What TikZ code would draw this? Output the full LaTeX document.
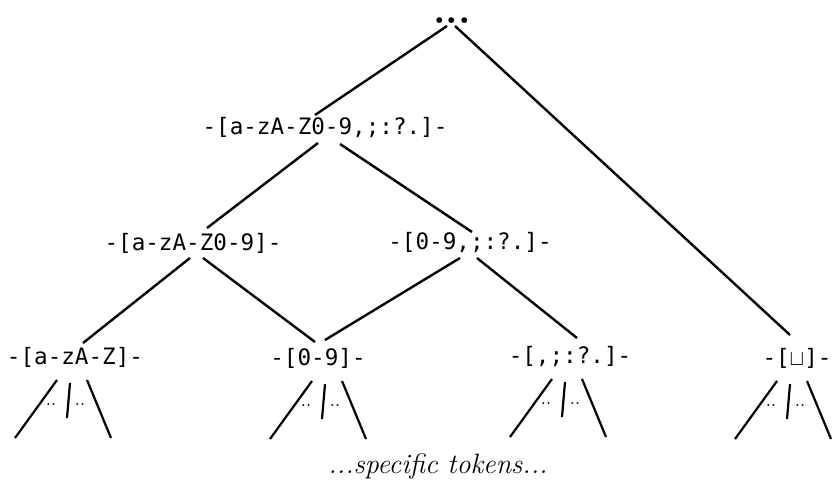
\documentclass[tikz,border=0pt]{standalone}
\usepackage{fontspec}
\usetikzlibrary{calc}
\newfontfamily\tokfont{DejaVu Sans Mono}
\tikzset{
  tnode/.style={inner sep=0pt, font=\tokfont\fontsize{11.3}{13}\selectfont},
  tedge/.style={line width=1.2pt},
  tfan/.style={line width=1.1pt},
  tdots/.style={inner sep=0pt, font=\fontsize{9}{9}\selectfont},
}

\begin{document}
\begin{tikzpicture}[x=0.5pt, y=-0.5pt]
    \useasboundingbox (0,0) rectangle (838,485);
    % top
    \node[inner sep=0pt, font=\fontsize{20}{20}\selectfont\bfseries] (root) at (452,21) {...};
    \node[tnode] (anp) at (325,128) {-[a-zA-Z0-9,;:?.]-};
    \draw[tedge] ($(root)+(-5,5)$) -- ($(anp)+(-10,-13)$);
    % middle
    \node[tnode] (an) at (193,243) {-[a-zA-Z0-9]-};
    \node[tnode] (np) at (470,243) {-[0-9,;:?.]-};
    \draw[tedge] ($(anp)+(-7,15)$) -- ($(an)+(14,-15)$);
    \draw[tedge] ($(anp)+(15,16)$) -- ($(np)+(2,-11)$);
    % leaves
    \node[tnode] (az) at (75,357) {-[a-zA-Z]-};
    \node[tnode] (dg) at (318,358) {-[0-9]-};
    \node[tnode] (pu) at (570,356) {-[,;:?.]-};
    \node[tnode] (sp) at (797,358) {-[$\sqcup$]-};
    \draw[tedge] ($(an)+(-3,15)$) -- ($(az)+(8,-14)$);
    \draw[tedge] ($(an)+(10,15)$) -- ($(dg)+(-3,-16)$);
    \draw[tedge] ($(np)+(-10,15)$) -- ($(dg)+(7,-18)$);
    \draw[tedge] ($(np)+(7,15)$) -- ($(pu)+(7,-18)$);
    \draw[tedge] ($(root)+(3,5)$) -- ($(sp)+(-7,-23)$);
    % fans below the leaves
    \foreach \leaf/\dx in {az/-10, dg/2, pu/-10, sp/-12} {
      \draw[tfan] ($(\leaf)+(\dx-8,23)$) -- ($(\leaf)+(\dx-50,81)$);
      \draw[tfan] ($(\leaf)+(\dx+5,26)$) -- ($(\leaf)+(\dx+2,61)$);
      \draw[tfan] ($(\leaf)+(\dx+22,23)$) -- ($(\leaf)+(\dx+46,81)$);
      \node[tdots] (\leaf-l) at ($(\leaf)+(\dx-14,48)$) {..};
      \node[tdots] (\leaf-r) at ($(\leaf)+(\dx+15,48)$) {..};
    }
    \node[font=\fontsize{14}{16}\selectfont\itshape] (note) at (438,466) {...specific tokens...};
  \end{tikzpicture}
\end{document}
